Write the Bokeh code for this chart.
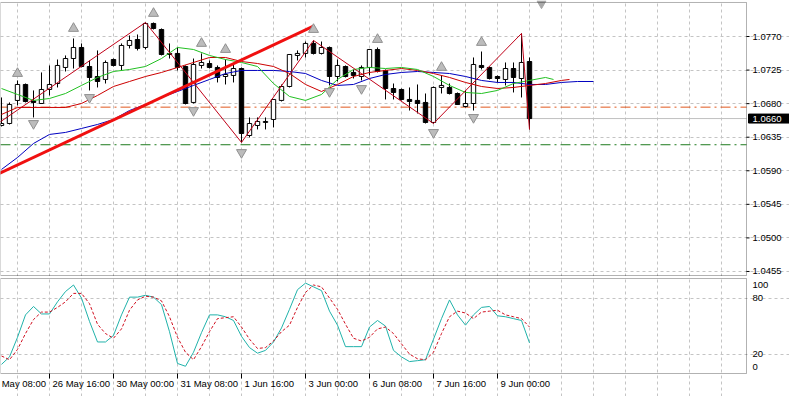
from bokeh.plotting import figure
from bokeh.models import Range1d, FixedTicker, Grid, BoxAnnotation, ColumnDataSource
from bokeh.layouts import column
from bokeh.embed import file_html
from bokeh.resources import INLINE
from bokeh.core.properties import value

FONT = value("Liberation Sans")
FS = value("9.5px")

# ---------------- data (H4 bars, index 0 = 25 May 16:00) ----------------
opens = [1.06507, 1.06534, 1.06843, 1.07057, 1.06836, 1.06802, 1.06990, 1.07070, 1.07285, 1.07405,
         1.07553, 1.07298, 1.07164, 1.07124, 1.07392, 1.07312, 1.07580, 1.07660, 1.07553, 1.07875,
         1.07794, 1.07473, 1.07473, 1.07298, 1.06816, 1.07312, 1.07338, 1.07285, 1.07164, 1.07178,
         1.07271, 1.06373, 1.06507, 1.06548, 1.06588, 1.06843, 1.07030, 1.07446, 1.07473, 1.07607,
         1.07473, 1.07553, 1.07164, 1.07298, 1.07218, 1.07164, 1.07285, 1.07526, 1.07245, 1.07003,
         1.06990, 1.06856, 1.06843, 1.06816, 1.06548, 1.07017, 1.07017, 1.06936, 1.06762, 1.06802,
         1.07312, 1.07285, 1.07164, 1.07124, 1.07271, 1.07137, 1.07365]
highs = [1.06883, 1.06816, 1.07111, 1.07070, 1.06977, 1.07218, 1.07312, 1.07392, 1.07446, 1.07674,
         1.07607, 1.07379, 1.07513, 1.07379, 1.07405, 1.07607, 1.07714, 1.07727, 1.07888, 1.07888,
         1.07808, 1.07607, 1.07553, 1.07312, 1.07405, 1.07473, 1.07379, 1.07312, 1.07392, 1.07325,
         1.07285, 1.06615, 1.06615, 1.06615, 1.06856, 1.07057, 1.07459, 1.07513, 1.07633, 1.07647,
         1.07633, 1.07566, 1.07392, 1.07312, 1.07258, 1.07312, 1.07526, 1.07553, 1.07258, 1.07070,
         1.07003, 1.07017, 1.07057, 1.06936, 1.07030, 1.07178, 1.07070, 1.06950, 1.06977, 1.07419,
         1.07499, 1.07298, 1.07178, 1.07352, 1.07352, 1.07741, 1.07419]
lows = [1.06494, 1.06521, 1.06776, 1.06816, 1.06615, 1.06802, 1.06910, 1.07017, 1.07231, 1.07271,
        1.07285, 1.06977, 1.07017, 1.07070, 1.07298, 1.07245, 1.07540, 1.07513, 1.07526, 1.07794,
        1.07446, 1.07405, 1.07245, 1.06789, 1.06802, 1.07271, 1.07271, 1.07084, 1.07057, 1.07084,
        1.06280, 1.06347, 1.06454, 1.06454, 1.06481, 1.06829, 1.07017, 1.07379, 1.07419, 1.07459,
        1.07459, 1.07044, 1.07097, 1.07151, 1.07137, 1.07111, 1.07178, 1.07218, 1.06856, 1.06856,
        1.06843, 1.06708, 1.06668, 1.06534, 1.06534, 1.06936, 1.06923, 1.06789, 1.06749, 1.06708,
        1.07258, 1.07124, 1.07084, 1.07044, 1.06950, 1.06883, 1.06454]
closes = [1.06534, 1.06789, 1.07057, 1.06829, 1.06816, 1.06990, 1.07057, 1.07312, 1.07405, 1.07553,
          1.07298, 1.07151, 1.07097, 1.07352, 1.07312, 1.07580, 1.07647, 1.07540, 1.07875, 1.07808,
          1.07459, 1.07459, 1.07285, 1.06802, 1.07325, 1.07352, 1.07285, 1.07151, 1.07191, 1.07271,
          1.06400, 1.06534, 1.06561, 1.06561, 1.06856, 1.07030, 1.07459, 1.07473, 1.07607, 1.07473,
          1.07553, 1.07164, 1.07312, 1.07164, 1.07178, 1.07285, 1.07526, 1.07231, 1.07003, 1.06950,
          1.06856, 1.06829, 1.06802, 1.06548, 1.07017, 1.07044, 1.06936, 1.06789, 1.06802, 1.07325,
          1.07285, 1.07137, 1.07137, 1.07271, 1.07151, 1.07352, 1.06600]

# Alligator (shifted forward past the last bar)
jaw_k = list(range(0, 75, 2))
jaw = [1.05918, 1.06078, 1.06266, 1.06387, 1.06414, 1.06467, 1.06521, 1.06588, 1.06708, 1.06789,
       1.06883, 1.06963, 1.07044, 1.07124, 1.07204, 1.07245, 1.07245, 1.07245, 1.07231, 1.07204,
       1.07111, 1.07044, 1.07057, 1.07137, 1.07191, 1.07218, 1.07231, 1.07218, 1.07204, 1.07164,
       1.07111, 1.07084, 1.07084, 1.07057, 1.07057, 1.07084, 1.07097, 1.07097]
teeth_k = list(range(0, 72, 2)) + [71]
teeth = [1.06655, 1.06749, 1.06749, 1.06749, 1.06749, 1.06802, 1.06910, 1.07030, 1.07097, 1.07164,
         1.07218, 1.07285, 1.07352, 1.07419, 1.07419, 1.07365, 1.07338, 1.07298, 1.07204, 1.07057,
         1.06963, 1.07057, 1.07164, 1.07218, 1.07245, 1.07271, 1.07245, 1.07204, 1.07151, 1.07084,
         1.07030, 1.07003, 1.07017, 1.07044, 1.07070, 1.07111, 1.07124]
lips_k = list(range(0, 70, 2)) + [69]
lips = [1.07003, 1.06923, 1.06843, 1.06869, 1.06936, 1.07044, 1.07151, 1.07231, 1.07258, 1.07298,
        1.07405, 1.07553, 1.07526, 1.07446, 1.07392, 1.07352, 1.07298, 1.07070, 1.06896, 1.06843,
        1.06923, 1.07124, 1.07258, 1.07285, 1.07271, 1.07285, 1.07258, 1.07164, 1.07044, 1.06950,
        1.06936, 1.06977, 1.07070, 1.07111, 1.07151, 1.07124]

zz_k = [-1, 18, 30, 39, 54, 65, 66]
zz_p = [1.06494, 1.07888, 1.06280, 1.07647, 1.06534, 1.07741, 1.06454]

trend_k = [-1, 39]
trend_p = [1.05828, 1.07838]

level_orange = 1.06753
level_green = 1.06249
bid = 1.06600
bid_text = "1.0660"

up_frac_k = [2, 9, 19, 25, 28, 39, 47, 55, 60]
up_frac_p = [1.07204, 1.07808, 1.08009, 1.07607, 1.07526, 1.07794, 1.07660, 1.07285, 1.07620]
dn_frac_k = [4, 11, 24, 30, 41, 45, 54, 59]
dn_frac_p = [1.06534, 1.06883, 1.06708, 1.06145, 1.06963, 1.07003, 1.06414, 1.06615]

stoch_main = [9, 17, 38, 62, 71, 63, 63, 76, 87, 94, 80, 55, 33, 33, 40, 62, 81, 81, 83, 81,
              73, 44, 10, 7, 22, 43, 62, 62, 60, 56, 39, 27, 21, 24, 33, 48, 68, 89, 96, 92,
              88, 66, 51, 28, 28, 28, 49, 56, 50, 24, 17, 12, 13, 14, 36, 58, 78, 62, 51, 62,
              70, 71, 61, 60, 58, 56, 32]
stoch_signal = [18, 14, 25, 42, 57, 65, 65, 70, 76, 85, 85, 74, 52, 42, 37, 47, 67, 78, 82, 81,
                77, 60, 38, 22, 14, 28, 44, 58, 59, 60, 49, 36, 26, 27, 34, 44, 51, 70, 86, 94,
                92, 80, 68, 52, 37, 34, 38, 47, 49, 42, 31, 20, 15, 14, 22, 42, 60, 66, 64, 58,
                65, 66, 67, 62, 60, 58, 49]

price_ticks = [1.0455, 1.0500, 1.0545, 1.0590, 1.0635, 1.0680, 1.0725, 1.0770]
price_labels = ["1.0455", "1.0500", "1.0545", "1.0590", "1.0635", "1.0680", "1.0725", "1.0770"]
stoch_ticks = [20, 80]
stoch_label_pos = [6.7, 20, 80, 94.5]
stoch_labels = ["0", "20", "80", "100"]
grid_k = list(range(-2, 93, 4))
time_k = [-2, 6, 14, 22, 30, 38, 46, 54, 62]
time_labels = ["25 May 08:00", "26 May 16:00", "30 May 00:00", "31 May 08:00", "1 Jun 16:00",
               "3 Jun 00:00", "6 Jun 08:00", "7 Jun 16:00", "9 Jun 00:00"]
shift_k = 67.5

# ---------------- geometry ----------------
PX_PER_BAR = 8.0
W = 789
X0 = -0.125
XB = X0 + 746 / PX_PER_BAR          # right edge of the chart area (price scale starts here)
X1 = X0 + W / PX_PER_BAR
PTOP, PBOT = 1.08156, 1.04496        # price panel box
ppx = 0.00013405                     # price per pixel
PH = round((PTOP - PBOT) / ppx)      # 273 px
STOP, SBOT = 100.95, -0.75           # stochastic panel box
SH = 95
spx = (STOP - SBOT) / SH             # stoch units per pixel
SB = 23                              # room for the time scale
GRID = "#c4c4c4"

xr = Range1d(X0, X1)

# ---------------- main price panel ----------------
p = figure(frame_width=W, frame_height=PH + 3, x_range=xr,
           y_range=Range1d(PBOT - ppx, PTOP + 2 * ppx),
           x_axis_location=None, y_axis_location=None, output_backend="svg",
           toolbar_location=None, min_border_left=0, min_border_right=0,
           min_border_top=0, min_border_bottom=0, background_fill_color="white",
           border_fill_color="white", outline_line_color=None)
p.grid.visible = False
p.add_layout(Grid(dimension=0, ticker=FixedTicker(ticks=grid_k), bounds=(PBOT, PTOP),
                  grid_line_color=GRID, grid_line_dash="3 3"))
p.add_layout(Grid(dimension=1, ticker=FixedTicker(ticks=price_ticks), bounds=(X0, XB),
                  grid_line_color=GRID, grid_line_dash="3 3"))

p.segment(x0=[X0], x1=[XB], y0=[bid], y1=[bid], line_color="#c0c0c0", line_width=1)
p.segment(x0=[X0], x1=[XB], y0=[level_orange], y1=[level_orange], line_color="#e0581e",
          line_dash="10 4 2 4", line_width=1)
p.segment(x0=[X0], x1=[XB], y0=[level_green], y1=[level_green], line_color="#1e7a1e",
          line_dash="10 4 2 4", line_width=1)

src = ColumnDataSource(dict(
    k=list(range(len(opens))), h=highs, l=lows,
    top=[max(o, c) for o, c in zip(opens, closes)],
    bottom=[min(o, c) for o, c in zip(opens, closes)],
    fill=["white" if c >= o else "black" for o, c in zip(opens, closes)],
))
p.segment(x0="k", y0="l", x1="k", y1="h", source=src, line_color="black", line_width=1)
p.vbar(x="k", width=0.55, top="top", bottom="bottom", fill_color="fill",
       line_color="black", line_width=1, source=src)

p.line(jaw_k, jaw, line_color="#0000c0", line_width=1)
p.line(teeth_k, teeth, line_color="#cc0000", line_width=1)
p.line(lips_k, lips, line_color="#22c022", line_width=1)
p.line(zz_k, zz_p, line_color="#c00018", line_width=1)
p.line(trend_k, trend_p, line_color="#f01010", line_width=3)

p.scatter(up_frac_k, up_frac_p, marker="triangle", size=10, fill_color="#bcbcbc",
          line_color="#909090")
p.scatter(dn_frac_k, dn_frac_p, marker="inverted_triangle", size=10, fill_color="#bcbcbc",
          line_color="#909090")
p.scatter([shift_k], [PTOP - ppx], marker="inverted_triangle", size=9, fill_color="#a8a8a8",
          line_color="#a8a8a8")

# frame box of the chart area
p.add_layout(BoxAnnotation(left=X0, right=XB, bottom=PBOT, top=PTOP, fill_alpha=0,
                           line_color="black", line_width=1, level="overlay"))

# price scale (ticks, labels, bid box)
p.segment(x0=[XB] * len(price_ticks), x1=[XB + 3 / PX_PER_BAR] * len(price_ticks),
          y0=price_ticks, y1=price_ticks, line_color="black", line_width=1)
p.text(x=[XB + 6 / PX_PER_BAR] * len(price_ticks), y=price_ticks, text=price_labels,
       text_font=FONT, text_font_size=FS, text_color="black", text_baseline="middle",
       text_align="left")
p.quad(left=[XB + 2 / PX_PER_BAR], right=[X1], bottom=[bid - 4.5 * ppx],
       top=[bid + 4.5 * ppx], fill_color="black", line_color="black")
p.text(x=[XB + 6 / PX_PER_BAR], y=[bid], text=[bid_text], text_font=FONT, text_font_size=FS,
       text_color="white", text_baseline="middle", text_align="left")

# ---------------- stochastic panel ----------------
p2 = figure(frame_width=W, frame_height=SH + 1 + SB, x_range=xr,
            y_range=Range1d(SBOT - SB * spx, STOP + spx),
            x_axis_location=None, y_axis_location=None, output_backend="svg",
            toolbar_location=None, min_border_left=0, min_border_right=0,
            min_border_top=1, min_border_bottom=0, background_fill_color="white",
            border_fill_color="white", outline_line_color=None)
p2.grid.visible = False
p2.add_layout(Grid(dimension=0, ticker=FixedTicker(ticks=grid_k), bounds=(SBOT, STOP),
                   grid_line_color=GRID, grid_line_dash="3 3"))
p2.add_layout(Grid(dimension=1, ticker=FixedTicker(ticks=stoch_ticks), bounds=(X0, XB),
                   grid_line_color=GRID, grid_line_dash="3 3"))

ks = list(range(len(stoch_main)))
p2.line(ks, stoch_main, line_color="#20b2aa", line_width=1)
p2.line(ks, stoch_signal, line_color="#d01020", line_width=1, line_dash="3 2")

p2.add_layout(BoxAnnotation(left=X0, right=XB, bottom=SBOT, top=STOP, fill_alpha=0,
                            line_color="black", line_width=1, level="overlay"))

p2.text(x=[XB + 6 / PX_PER_BAR] * len(stoch_labels), y=stoch_label_pos, text=stoch_labels,
        text_font=FONT, text_font_size=FS, text_color="black", text_baseline="middle",
        text_align="left")

# time scale
p2.segment(x0=time_k, x1=time_k, y0=[SBOT] * len(time_k), y1=[SBOT - 5 * spx] * len(time_k),
           line_color="black", line_width=1)
p2.text(x=time_k, y=[SBOT - 10 * spx] * len(time_k), text=time_labels, x_offset=3,
        text_font=FONT, text_font_size=FS, text_color="black", text_baseline="middle",
        text_align="left")

layout = column(p, p2, spacing=0)
open("out.html", "w").write(file_html(layout, INLINE))
